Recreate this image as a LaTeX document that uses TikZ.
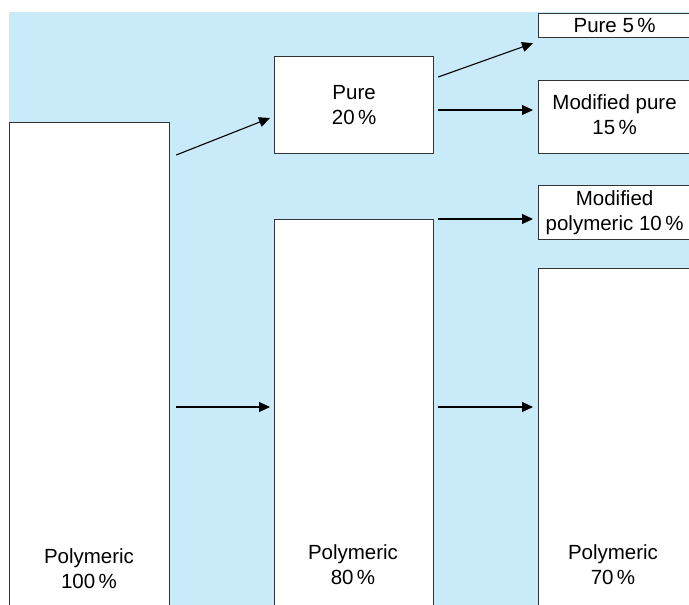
\documentclass[tikz,border=0pt]{standalone}
\usepackage{fontspec}
\setmainfont{Liberation Sans}
\usetikzlibrary{arrows.meta,calc}
\definecolor{bgblue}{HTML}{C8EAF9}
\definecolor{edge}{HTML}{333333}
\tikzset{
  box/.style={draw=edge, line width=1.2pt, fill=white, anchor=north west, inner sep=0pt, align=center,
    font=\fontsize{20.5}{25}\selectfont},
  lbl/.style={inner sep=0pt, align=center, font=\fontsize{20.5}{25}\selectfont},
  arr/.style={line width=1.1pt, -{Triangle[length=11pt,width=10pt]}}
}
\begin{document}
\begin{tikzpicture}[x=1pt,y=-1pt]
\useasboundingbox (0,0) rectangle (689,605);
\clip (0,0) rectangle (689,605);
\fill[bgblue] (9,12) rectangle (700,620);
% boxes
\node[box, minimum width=160pt, minimum height=500pt] (p100) at (9,122) {};
\node[box, minimum width=159pt, minimum height=97pt] (pure20) at (274,56) {Pure\\20\,\%};
\node[box, minimum width=159pt, minimum height=400pt] (p80) at (274,219) {};
\node[box, minimum width=165pt, minimum height=24pt] (pure5) at (538,13) {\hspace*{-13pt}Pure 5\,\%};
\node[box, minimum width=165pt, minimum height=73pt] (modpure) at (538,80) {\hspace*{-13pt}\begin{tabular}{@{}c@{}}Modified pure\\15\,\%\end{tabular}};
\node[box, minimum width=165pt, minimum height=54pt] (modpoly) at (538,185) {\hspace*{-13pt}\begin{tabular}{@{}c@{}}Modified\\polymeric 10\,\%\end{tabular}};
\node[box, minimum width=165pt, minimum height=400pt] (p70) at (538,268) {};
% labels
\node[lbl] (t100) at (89,569) {Polymeric\\100\,\%};
\node[lbl] (t80) at (353,565) {Polymeric\\80\,\%};
\node[lbl] (t70) at (613,565) {Polymeric\\70\,\%};
% arrows
\draw[arr] ($(p100.north east)+(6,33)$) -- ($(pure20.north west)+(-4,62)$);
\draw[arr] ($(p100.north east)+(6,285)$) -- ($(p80.north west)+(-4,188)$);
\draw[arr] ($(pure20.north east)+(4,21)$) -- ($(pure5.south west)+(-5,5)$);
\draw[arr] ($(pure20.north east)+(4,54)$) -- ($(modpure.north west)+(-5,30)$);
\draw[arr] ($(p80.north east)+(4,0)$) -- ($(modpoly.north west)+(-5,34)$);
\draw[arr] ($(p80.north east)+(4,188)$) -- ($(p70.north west)+(-5,139)$);
\end{tikzpicture}
\end{document}
